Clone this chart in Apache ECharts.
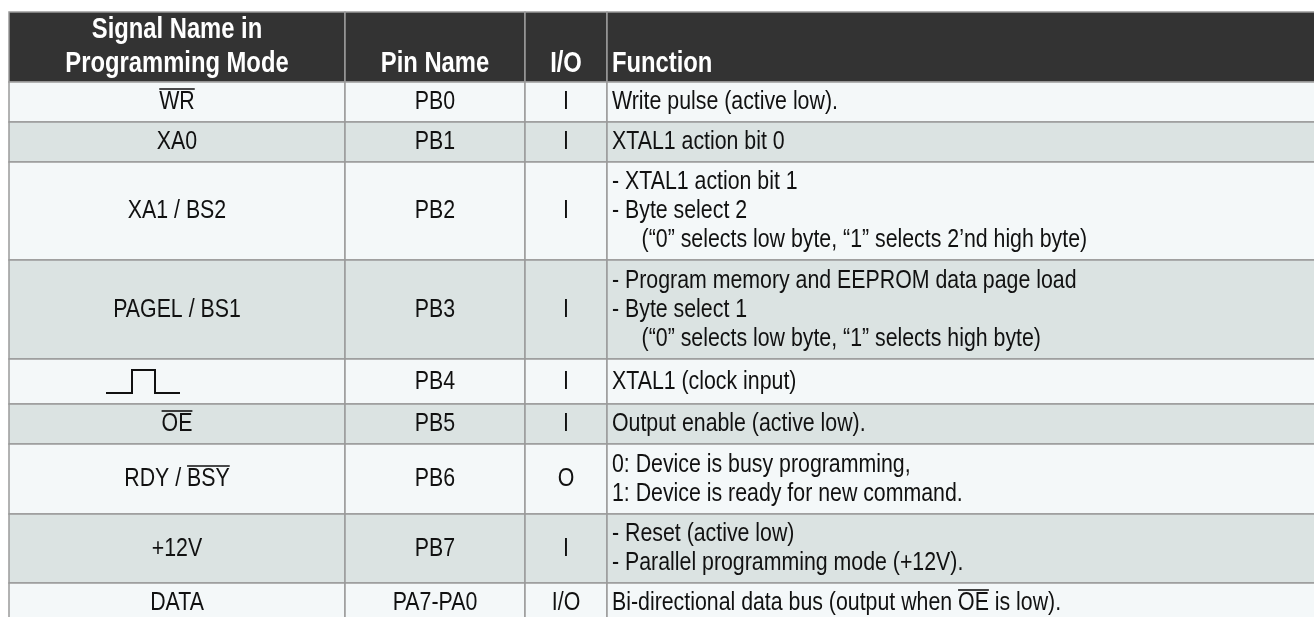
<!DOCTYPE html>
<html>
<head>
<meta charset="utf-8">
<script src="https://cdn.jsdelivr.net/npm/echarts@6/dist/echarts.min.js"></script>
<style>
html,body{margin:0;padding:0;background:#ffffff;}
#chart{width:1314px;height:617px;}
</style>
</head>
<body>
<div id="chart"></div>
<script>
// ---------------- data ----------------
const headers = ['Signal Name in\nProgramming Mode', 'Pin Name', 'I/O', 'Function'];
const signalNames = ['WR', 'XA0', 'XA1 / BS2', 'PAGEL / BS1', '', 'OE', 'RDY / BSY', '+12V', 'DATA'];
const pinNames = ['PB0', 'PB1', 'PB2', 'PB3', 'PB4', 'PB5', 'PB6', 'PB7', 'PA7-PA0'];
const ioTypes = ['I', 'I', 'I', 'I', 'I', 'I', 'O', 'I', 'I/O'];
const functions = [
  ['Write pulse (active low).'],
  ['XTAL1 action bit 0'],
  ['- XTAL1 action bit 1', '- Byte select 2', '     (\u201C0\u201D selects low byte, \u201C1\u201D selects 2\u2019nd high byte)'],
  ['- Program memory and EEPROM data page load', '- Byte select 1', '     (\u201C0\u201D selects low byte, \u201C1\u201D selects high byte)'],
  ['XTAL1 (clock input)'],
  ['Output enable (active low).'],
  ['0: Device is busy programming,', '1: Device is ready for new command.'],
  ['- Reset (active low)', '- Parallel programming mode (+12V).'],
  ['Bi-directional data bus (output when OE is low).']
];
// negated (overlined) signal names: [body row, column, text]
const overlined = [[0, 0, 'WR'], [5, 0, 'OE'], [6, 0, 'BSY'], [8, 3, 'OE']];
// row whose signal name is the clock-pulse glyph
const clockRow = 4;

// ---------------- layout ----------------
const W = 1314, H = 617;
const colEdges = [9, 345, 525, 607, 1316];
const rowEdges = [12, 82, 122, 162, 260, 359, 404, 444, 514, 583, 623];
const FONT_FAMILY = '"Liberation Sans", Arial, Helvetica, sans-serif';
const FS = 26;          // body font size
const HFS = 29;         // header font size
const SX = 0.82;        // horizontal condensing (narrow face)
const LINE_H = 29;
const HEAD_LINE_H = 34;
const COLORS = {
  head: '#333333', headText: '#ffffff',
  light: '#f4f8f9', shade: '#dbe3e2',
  border: '#9a9a9a', text: '#111111'
};

const measureCtx = document.createElement('canvas').getContext('2d');
function textWidth(str, font) {
  measureCtx.font = font;
  return measureCtx.measureText(str).width * SX;
}

function cellLines(r, c) {
  if (r === 0) return headers[c].split('\n');
  const i = r - 1;
  if (c === 0) return i === clockRow ? [] : [signalNames[i]];
  if (c === 1) return [pinNames[i]];
  if (c === 2) return [ioTypes[i]];
  return functions[i];
}

const cells = [];
for (let r = 0; r < rowEdges.length - 1; r++) {
  for (let c = 0; c < colEdges.length - 1; c++) cells.push([c, r]);
}

function renderItem(params, api) {
  const c = api.value(0), r = api.value(1);
  const p0 = api.coord([colEdges[c], rowEdges[r]]);
  const p1 = api.coord([colEdges[c + 1], rowEdges[r + 1]]);
  const x0 = p0[0], y0 = p0[1], x1 = p1[0], y1 = p1[1];
  const isHead = r === 0;
  const fill = isHead ? COLORS.head : ((r - 1) % 2 === 0 ? COLORS.light : COLORS.shade);
  const children = [{
    type: 'rect',
    shape: { x: x0, y: y0, width: x1 - x0, height: y1 - y0 },
    style: { fill: fill, stroke: COLORS.border, lineWidth: 1.5 }
  }];
  const lines = cellLines(r, c);
  const font = isHead ? ('bold ' + HFS + 'px ' + FONT_FAMILY) : (FS + 'px ' + FONT_FAMILY);
  const color = isHead ? COLORS.headText : COLORS.text;
  const alignLeft = c === 3;
  const tx = alignLeft ? x0 + 5 : (x0 + x1) / 2;
  let ys;
  if (isHead) {
    const last = y1 - 18;
    ys = lines.map((_, k) => last - (lines.length - 1 - k) * HEAD_LINE_H);
  } else {
    const mid = (y0 + y1) / 2;
    ys = lines.map((_, k) => mid + (k - (lines.length - 1) / 2) * LINE_H);
  }
  lines.forEach((ln, k) => {
    children.push({
      type: 'text',
      x: tx, y: ys[k], scaleX: SX, scaleY: 1,
      style: {
        text: ln, x: 0, y: 0, fill: color, font: font,
        textAlign: alignLeft ? 'left' : 'center', textVerticalAlign: 'middle'
      }
    });
    if (!isHead) {
      overlined.forEach(o => {
        if (o[0] === r - 1 && o[1] === c) {
          const idx = ln.indexOf(o[2]);
          if (idx < 0) return;
          const full = textWidth(ln, font);
          const start = alignLeft ? tx : tx - full / 2;
          const ox = start + textWidth(ln.slice(0, idx), font);
          const ow = textWidth(o[2], font);
          const oy = ys[k] - 13;
          children.push({
            type: 'line',
            shape: { x1: ox, y1: oy, x2: ox + ow, y2: oy },
            style: { stroke: color, lineWidth: 1.6 }
          });
        }
      });
    }
  });
  if (!isHead && c === 0 && r - 1 === clockRow) {
    const cx = (x0 + x1) / 2;
    const lowY = y1 - 11, highY = y0 + 11;
    children.push({
      type: 'polyline',
      shape: { points: [[cx - 71, lowY], [cx - 45, lowY], [cx - 45, highY], [cx - 22, highY], [cx - 22, lowY], [cx + 3, lowY]] },
      style: { stroke: COLORS.text, lineWidth: 2, fill: null }
    });
  }
  return { type: 'group', children: children };
}

const chart = echarts.init(document.getElementById('chart'), null, { renderer: 'canvas', width: W, height: H });
chart.setOption({
  animation: false,
  backgroundColor: '#ffffff',
  grid: { left: 0, right: 0, top: 0, bottom: 0 },
  xAxis: { type: 'value', min: 0, max: W, show: false },
  yAxis: { type: 'value', min: 0, max: H, inverse: true, show: false },
  series: [{
    type: 'custom',
    silent: true,
    clip: false,
    renderItem: renderItem,
    data: cells
  }]
});
</script>
</body>
</html>
